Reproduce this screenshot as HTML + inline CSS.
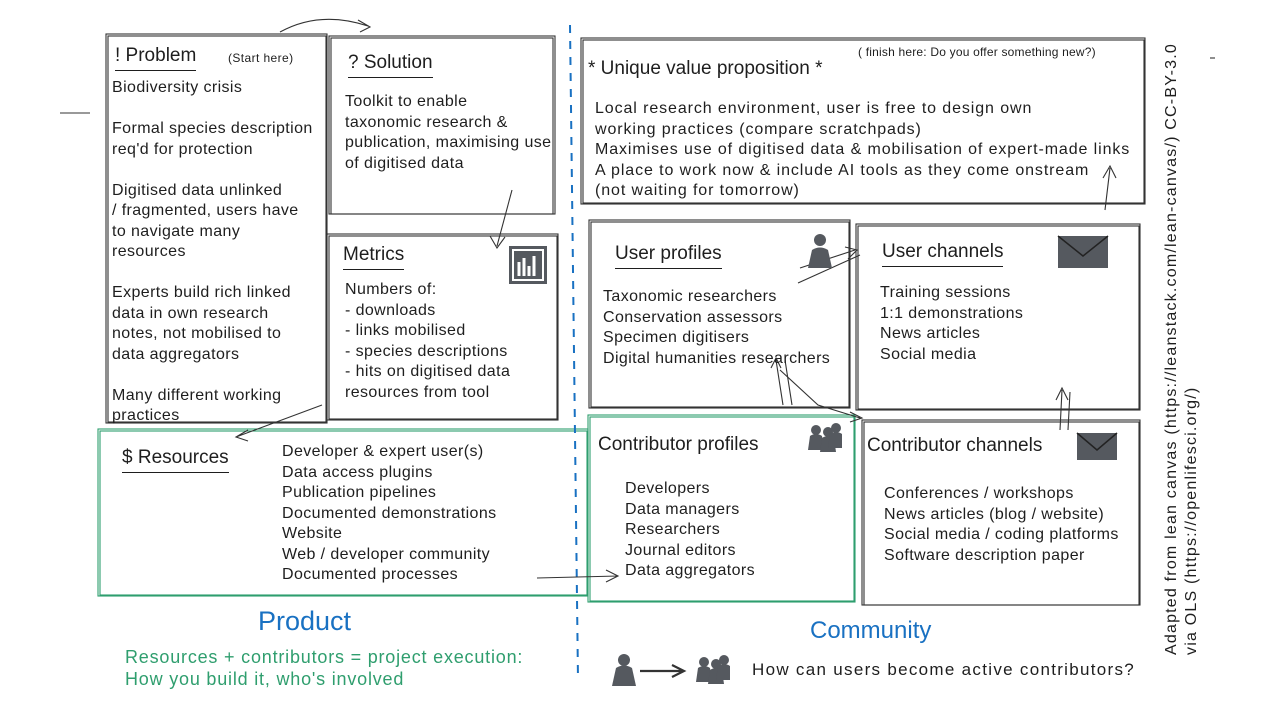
<!DOCTYPE html>
<html><head><meta charset="utf-8"><style>
body{margin:0;width:1280px;height:720px;background:#fff;position:relative;overflow:hidden;font-family:"Liberation Sans",sans-serif;color:#1e1e1e}
.t{position:absolute;font-size:16px;line-height:20.5px;white-space:nowrap;letter-spacing:0.4px}
.h{position:absolute;font-size:19px;white-space:nowrap}
.h span{display:block;border-bottom:1.5px solid #1e1e1e;height:3px}
</style></head><body>
<svg width="1280" height="720" style="position:absolute;left:0;top:0" fill="none" stroke="#333" stroke-width="1.1">
<rect x="106" y="34" width="221" height="389"/><rect x="108" y="36" width="218" height="386"/>
<rect x="329" y="36" width="226" height="178"/><rect x="331" y="38" width="222" height="176"/>
<rect x="327" y="234" width="231" height="186"/><rect x="329" y="236" width="228" height="183"/>
<rect x="98" y="429" width="490" height="167" stroke="#2f9e6e"/><rect x="100" y="431" width="487" height="164" stroke="#2f9e6e"/>
<rect x="581" y="38" width="564" height="166"/><rect x="583" y="40" width="561" height="163"/>
<rect x="589" y="220" width="261" height="188"/><rect x="591" y="222" width="258" height="185"/>
<rect x="856" y="224" width="284" height="186"/><rect x="858" y="226" width="281" height="183"/>
<rect x="588" y="415" width="267" height="187" stroke="#2f9e6e"/><rect x="590" y="417" width="264" height="184" stroke="#2f9e6e"/>
<rect x="862" y="420" width="278" height="185"/><rect x="864" y="422" width="275" height="183"/>
<line x1="570" y1="25" x2="578" y2="680" stroke="#1971c2" stroke-width="2" stroke-dasharray="8 8"/>
<path d="M280 32 Q320 10 368 26 M358 20 L370 27 L360 32"/>
<path d="M512 190 L497 246 M490 236 L497 248 L505 237"/>
<path d="M322 405 L236 437 M248 430 L236 437 L248 441"/>
<path d="M537 578 L618 576 M606 570 L618 576 L606 582"/>
<path d="M800 268 L855 250 M845 247 L857 250 L848 259"/>
<path d="M798 283 L860 255"/>
<path d="M780 370 L818 405 L860 418 M850 412 L862 418 L850 422"/>
<path d="M783 405 L776 360 M771 368 L776 358 L781 368 M792 405 L785 360"/>
<path d="M1060 430 L1062 390 M1056 400 L1062 388 L1068 400 M1068 430 L1070 392"/>
<path d="M1105 210 L1110 168 M1103 178 L1110 166 L1116 178"/>
<path d="M60 113 L90 113"/><path d="M1210 58 L1215 58"/>
<path d="M640 671 L682 671 M672 665 L684 671 L672 677" stroke-width="2.2"/>
</svg>
<svg width="1280" height="720" style="position:absolute;left:0;top:0">
<g fill="#55595f"><path d="M808 268 L812 250 Q820 245 828 250 L832 268 Z"/><circle cx="820" cy="240" r="6"/>
<path d="M612 686 L616 668 Q624 663 632 668 L636 686 Z"/><circle cx="624" cy="660" r="6"/>
<g><path d="M808 450 L810 436 Q816 432 822 436 L824 450 Z"/><circle cx="816" cy="430" r="5"/><path d="M820 452 L822 438 Q828 434 834 438 L836 452 Z"/><circle cx="828" cy="432" r="5"/><path d="M828 448 L830 434 Q836 430 842 434 L842 448 Z"/><circle cx="836" cy="428" r="5"/></g>
<g transform="translate(-112 232)"><path d="M808 450 L810 436 Q816 432 822 436 L824 450 Z"/><circle cx="816" cy="430" r="5"/><path d="M820 452 L822 438 Q828 434 834 438 L836 452 Z"/><circle cx="828" cy="432" r="5"/><path d="M828 448 L830 434 Q836 430 842 434 L842 448 Z"/><circle cx="836" cy="428" r="5"/></g>
<rect x="1058" y="236" width="50" height="32"/><rect x="1077" y="433" width="40" height="27"/></g>
<path d="M1058 236 L1083 256 L1108 236 M1077 433 L1097 450 L1117 433" stroke="#222" fill="none" stroke-width="1.5"/>
<rect x="509" y="246" width="38" height="38" fill="#55595f"/><rect x="513" y="250" width="30" height="30" fill="none" stroke="#fff" stroke-width="2"/>
<path d="M519 276 V262 M524 276 V258 M529 276 V266 M534 276 V256" stroke="#fff" stroke-width="3"/>
</svg>
<div class="h" style="left:115px;top:45px">! Problem<span></span></div><div class="t" style="left:228px;top:48px;font-size:12px">(Start here)</div>
<div class="t" style="left:112px;top:78px">Biodiversity crisis<br><br>Formal species description<br>req'd for protection<br><br>Digitised data unlinked<br>/ fragmented, users have<br>to navigate many<br>resources<br><br>Experts build rich linked<br>data in own research<br>notes, not mobilised to<br>data aggregators<br><br>Many different working<br>practices</div>
<div class="h" style="left:348px;top:52px">? Solution<span></span></div>
<div class="t" style="left:345px;top:92px">Toolkit to enable<br>taxonomic research &amp;<br>publication, maximising use<br>of digitised data</div>
<div class="h" style="left:343px;top:244px">Metrics<span></span></div>
<div class="t" style="left:345px;top:280px">Numbers of:<br>- downloads<br>- links mobilised<br>- species descriptions<br>- hits on digitised data<br>resources from tool</div>
<div class="h" style="left:122px;top:447px">$ Resources<span></span></div>
<div class="t" style="left:282px;top:442px">Developer &amp; expert user(s)<br>Data access plugins<br>Publication pipelines<br>Documented demonstrations<br>Website<br>Web / developer community<br>Documented processes</div>
<div class="h" style="left:588px;top:58px">* Unique value proposition *</div>
<div class="t" style="left:858px;top:42px;font-size:12px;letter-spacing:0.2px">( finish here: Do you offer something new?)</div>
<div class="t" style="left:595px;top:99px;letter-spacing:0.9px">Local research environment, user is free to design own<br>working practices (compare scratchpads)<br>Maximises use of digitised data &amp; mobilisation of expert-made links<br>A place to work now &amp; include AI tools as they come onstream<br>(not waiting for tomorrow)</div>
<div class="h" style="left:615px;top:243px">User profiles<span></span></div>
<div class="t" style="left:603px;top:287px">Taxonomic researchers<br>Conservation assessors<br>Specimen digitisers<br>Digital humanities researchers</div>
<div class="h" style="left:882px;top:241px">User channels<span></span></div>
<div class="t" style="left:880px;top:283px">Training sessions<br>1:1 demonstrations<br>News articles<br>Social media</div>
<div class="h" style="left:598px;top:434px">Contributor profiles</div>
<div class="t" style="left:625px;top:479px">Developers<br>Data managers<br>Researchers<br>Journal editors<br>Data aggregators</div>
<div class="h" style="left:867px;top:435px">Contributor channels</div>
<div class="t" style="left:884px;top:484px">Conferences / workshops<br>News articles (blog / website)<br>Social media / coding platforms<br>Software description paper</div>
<div class="h" style="left:258px;top:606px;font-size:27px;color:#1971c2">Product</div>
<div class="h" style="left:810px;top:617px;font-size:24px;color:#1971c2">Community</div>
<div class="t" style="left:125px;top:646px;font-size:18px;line-height:22px;color:#2f9e6e;letter-spacing:0.8px">Resources + contributors = project execution:<br>How you build it, who's involved</div>
<div class="t" style="left:752px;top:660px;font-size:17px;letter-spacing:1.3px">How can users become active contributors?</div>
<div class="t" style="left:1162px;top:655px;transform:rotate(-90deg);transform-origin:0 0;font-size:16px;line-height:20px;letter-spacing:1.2px">Adapted from lean canvas (https://leanstack.com/lean-canvas/) CC-BY-3.0<br>via OLS (https://openlifesci.org/)</div>
</body></html>
